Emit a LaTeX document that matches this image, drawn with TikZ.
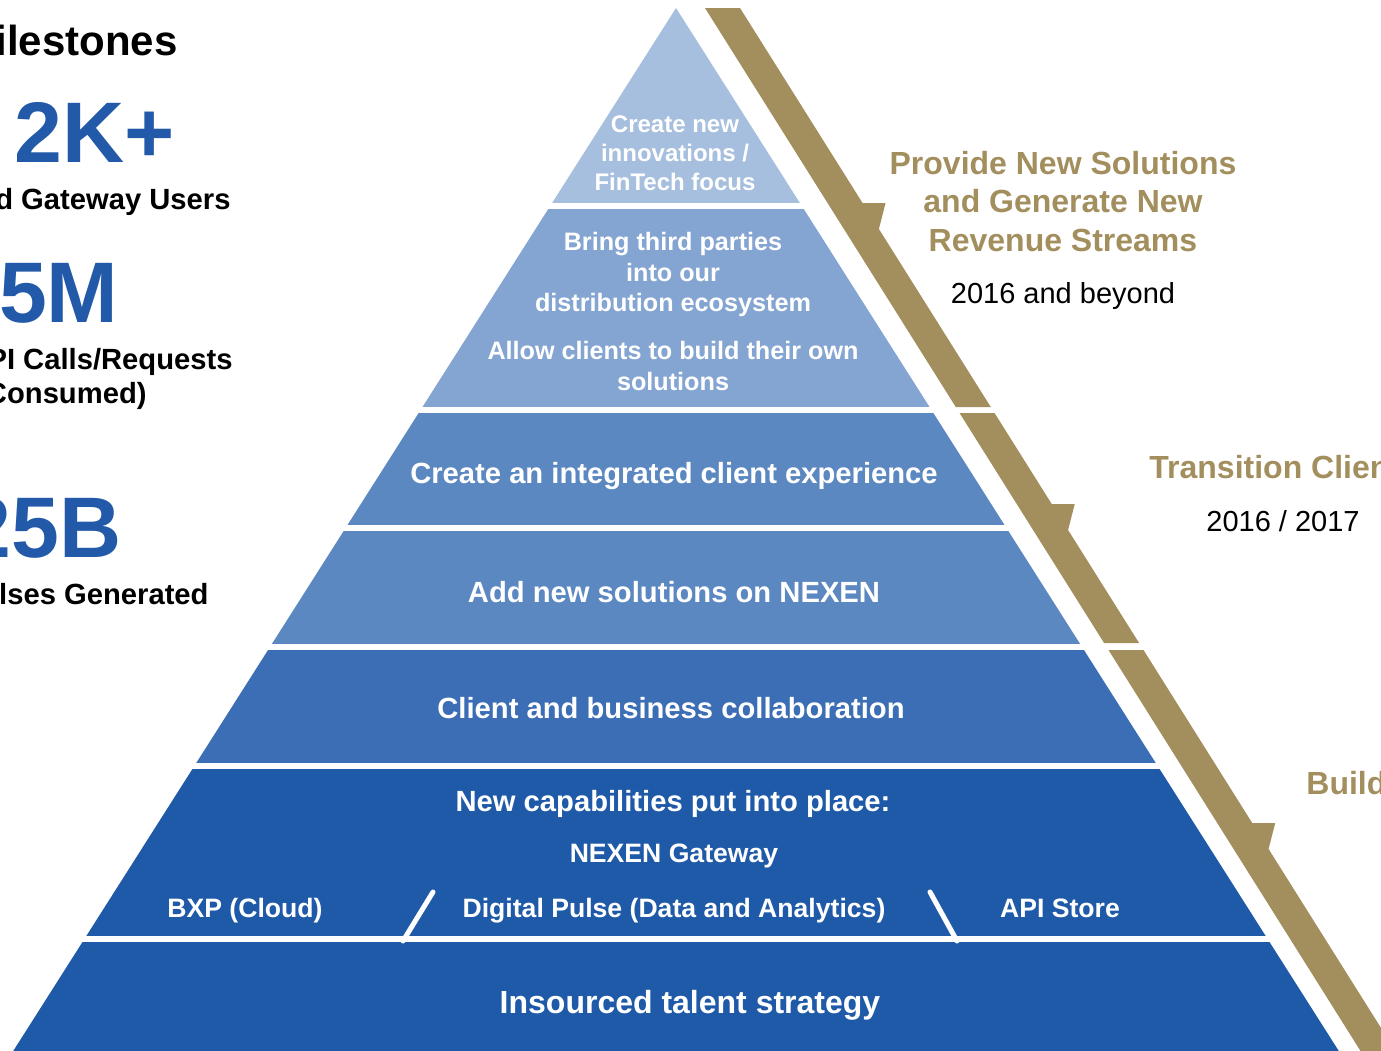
\documentclass[tikz,border=0pt]{standalone}
\usepackage{fontspec}
\setmainfont{Liberation Sans}
\usepackage{xcolor}

\definecolor{tierA}{RGB}{167,191,222}
\definecolor{tierB}{RGB}{132,165,210}
\definecolor{tierC}{RGB}{92,136,193}
\definecolor{tierD}{RGB}{60,110,181}
\definecolor{tierE}{RGB}{31,90,168}
\definecolor{gold}{RGB}{163,142,94}
\definecolor{numblue}{RGB}{34,89,168}

\begin{document}
\begin{tikzpicture}[x=0.5pt,y=-0.5pt,
    layer text/.style={text=white,inner sep=0pt,align=center},
    gold head/.style={text=gold,inner sep=0pt,align=center,
                      font=\bfseries\fontsize{16}{19.25}\selectfont},
    year text/.style={inner sep=0pt,font=\fontsize{14.5}{17}\selectfont},
    big num/.style={text=numblue,inner sep=0pt,font=\bfseries\fontsize{43}{50}\selectfont},
    stat text/.style={inner sep=0pt,font=\bfseries\fontsize{14.6}{17}\selectfont}]

  \useasboundingbox (0,0) rectangle (1381,1050);
  \clip (0,0) rectangle (1381,1050);

  % pyramid tiers
  \begin{scope}
    \clip (676,8) -- (-23,1108) -- (1375,1108) -- cycle;
    \foreach \ya/\yb/\col in {8/203/tierA, 209/407/tierB, 413/525/tierC,
        531/644/tierC, 650/763/tierD, 769/936/tierE, 942/1060/tierE}
      \fill[\col] (0,\ya) rectangle (1381,\yb);
  \end{scope}
  \draw[white,line width=2.5pt,line cap=round] (433,892) -- (403,941);
  \draw[white,line width=2.5pt,line cap=round] (930,892) -- (957,941);

  % gold stripe, one piece per phase
  \foreach \ya/\yn/\yb in {8/203/407, 413/504/643, 650/823/1060}
    \fill[gold] ({705+0.6285*(\ya-8)},\ya) -- ({740+0.6285*(\ya-8)},\ya)
      -- ({740+0.6285*(\yn-8)},\yn) -- ({763+0.6285*(\yn-8)},\yn)
      -- ({740+0.6285*(\yn+18)},{\yn+26}) -- ({740+0.6285*(\yb-8)},\yb)
      -- ({705+0.6285*(\yb-8)},\yb) -- cycle;

  % tier labels
  \node[layer text,font=\bfseries\fontsize{12}{14.5}\selectfont] (fintech) at (675,153)
    {Create new\\innovations /\\FinTech focus};
  \node[layer text,font=\bfseries\fontsize{12.6}{15.2}\selectfont] (third) at (673,274.5)
    {Bring third parties\\into our\\distribution ecosystem};
  \node[layer text,font=\bfseries\fontsize{12.6}{15.5}\selectfont] (own) at (673,365.5)
    {Allow clients to build their own\\solutions};
  \node[layer text,anchor=base,font=\bfseries\fontsize{14.6}{17}\selectfont] (integ) at (674,483.4)
    {Create an integrated client experience};
  \node[layer text,anchor=base,font=\bfseries\fontsize{14.6}{17}\selectfont] (nexen) at (674,602.4)
    {Add new solutions on NEXEN};
  \node[layer text,anchor=base,font=\bfseries\fontsize{14.6}{17}\selectfont] (collab) at (671,718.4)
    {Client and business collaboration};
  \node[layer text,anchor=base,font=\bfseries\fontsize{14.6}{17}\selectfont] (capab) at (673,811.4)
    {New capabilities put into place:};
  \node[layer text,anchor=base,font=\bfseries\fontsize{13.3}{16}\selectfont] (gateway) at (674,862.5)
    {NEXEN Gateway};
  \node[layer text,anchor=base,font=\bfseries\fontsize{13.3}{16}\selectfont] (bxp) at (245,917.5)
    {BXP (Cloud)};
  \node[layer text,anchor=base,font=\bfseries\fontsize{13.3}{16}\selectfont] (pulse) at (674,917.5)
    {Digital Pulse (Data and Analytics)};
  \node[layer text,anchor=base,font=\bfseries\fontsize{13.3}{16}\selectfont] (apistore) at (1060,917.5)
    {API Store};
  \node[layer text,anchor=base,font=\bfseries\fontsize{16}{19}\selectfont] (talent) at (690,1013.5)
    {Insourced talent strategy};

  % phases on the right
  \node[gold head] (provide) at (1063,201.5)
    {Provide New Solutions\\and Generate New\\Revenue Streams};
  \node[year text,anchor=base] (beyond) at (1063,303.4) {2016 and beyond};
  \node[gold head,anchor=base west] (transit) at (1149,478.5) {Transition Clients};
  \node[year text,anchor=base] (years) at (1283,531.4) {2016 / 2017};
  \node[gold head,anchor=base west] (build) at (1306,794.5) {Build};

  % milestones on the left
  \node[stat text,anchor=base east,font=\bfseries\fontsize{21}{25}\selectfont] (miles) at (178,55) {ilestones};
  \node[big num,anchor=base west] (users) at (14,162) {2K+};
  \node[stat text,anchor=base east] (userlbl) at (231,209.4) {d Gateway Users};
  \node[big num,anchor=base east] (calls) at (119,322) {5M};
  \node[stat text,anchor=base east] (calllbl) at (233,369.4) {PI Calls/Requests};
  \node[stat text,anchor=base east] (consumed) at (147,403.4) {Consumed)};
  \node[big num,anchor=base east] (pulses) at (122,557) {25B};
  \node[stat text,anchor=base east] (pulselbl) at (209,604.4) {lses Generated};
\end{tikzpicture}
\end{document}
